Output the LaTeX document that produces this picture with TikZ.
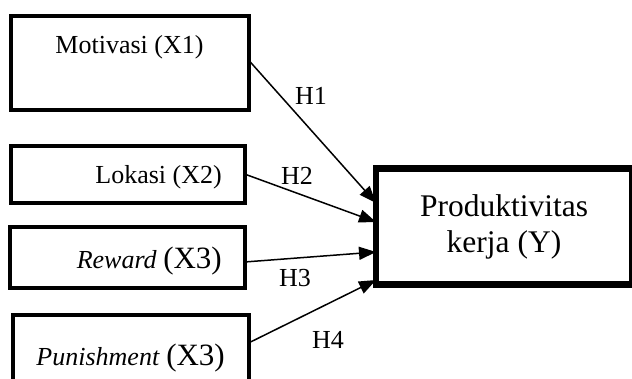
\documentclass[tikz,border=0pt]{standalone}
\usepackage{fontspec}
\setmainfont{Liberation Serif}
\usetikzlibrary{arrows.meta}

\tikzset{
    xbox/.style={draw, line width=4pt, outer sep=0pt, inner sep=0pt},
    ybox/.style={draw, line width=6.5pt, outer sep=0pt, align=center,
        font=\fontsize{31.5}{36}\selectfont},
    lbl/.style={inner sep=0pt, font=\fontsize{26}{30}\selectfont},
    hyp/.style={line width=1.5pt, -{Triangle[length=17pt,width=13pt]}}
}

\begin{document}
\begin{tikzpicture}[x=1pt, y=-1pt]
    \useasboundingbox (0,0) rectangle (632,378);
    \clip (0,0) rectangle (632,378);

    % independent variables
    \node[xbox, minimum width=238pt, minimum height=94pt] (x1) at (129.5,62.5) {};
    \node[xbox, minimum width=234pt, minimum height=57pt] (x2) at (127.5,174) {};
    \node[xbox, minimum width=235pt, minimum height=61pt] (x3) at (127,257) {};
    \node[xbox, minimum width=236pt, minimum height=80pt] (x4) at (130.5,354.5) {};

    \node[lbl, anchor=base] (t1) at ([yshift=-37.5pt]x1.north) {Motivasi (X1)};
    \node[lbl, anchor=base east] (t2) at ([xshift=-22.5pt, yshift=-9pt]x2.east) {Lokasi (X2)};
    \node[lbl, anchor=base east] (t3) at ([xshift=-22.5pt, yshift=-11pt]x3.east)
        {\textit{Reward} {\fontsize{31}{34}\selectfont(X3)}};
    \node[lbl, anchor=base east] (t4) at ([xshift=-23.5pt, yshift=-10.5pt]x4.east)
        {\textit{Punishment} {\fontsize{31}{34}\selectfont(X3)}};

    % dependent variable
    \node[ybox, minimum width=256pt, minimum height=116pt] (y) at (504,226.5)
        {Produktivitas\\kerja (Y)};

    % hypotheses
    \draw[hyp] ([yshift=2.5pt]x1.east) -- ([yshift=23.5pt]y.west);
    \draw[hyp] (x2.east) -- ([yshift=4.5pt]y.west);
    \draw[hyp] ([yshift=-5pt]x3.east) -- ([yshift=-25.5pt]y.west);
    \draw[hyp] ([yshift=11.5pt]x4.east) -- ([yshift=-53.5pt]y.west);

    \node[lbl] (h1) at (311,96) {H1};
    \node[lbl] (h2) at (297,176) {H2};
    \node[lbl] (h3) at (295,278) {H3};
    \node[lbl] (h4) at (328,340) {H4};
\end{tikzpicture}
\end{document}
